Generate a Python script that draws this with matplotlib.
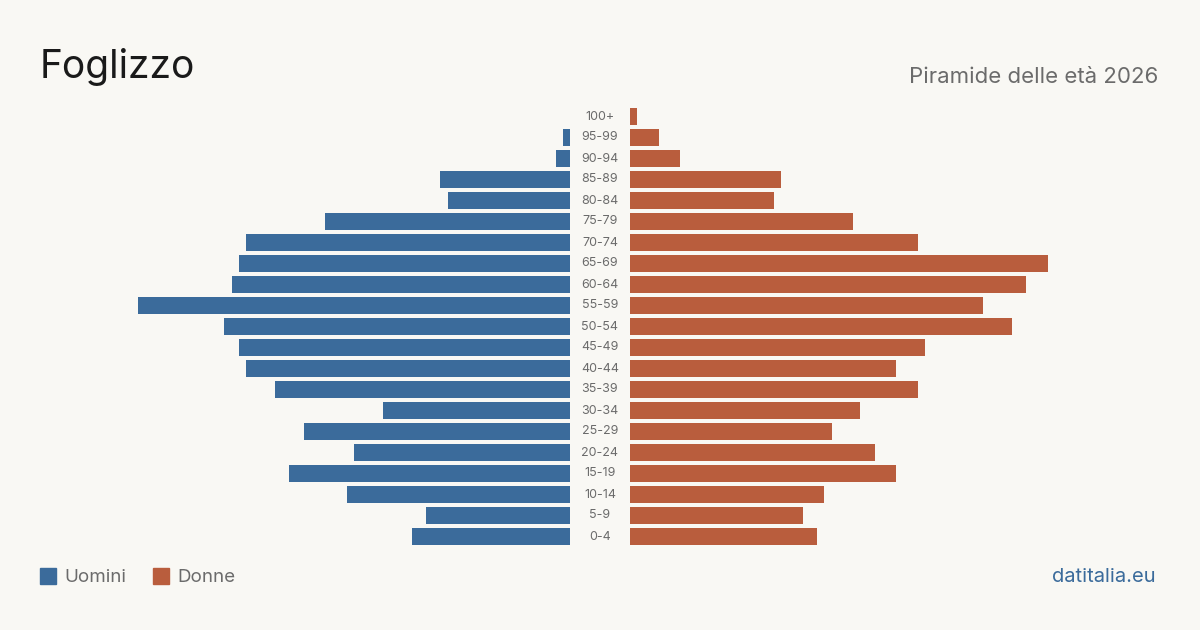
import matplotlib
matplotlib.use("Agg")
import matplotlib.pyplot as plt
import matplotlib.transforms as mtransforms

age_groups = ["0-4", "5-9", "10-14", "15-19", "20-24", "25-29", "30-34", "35-39",
              "40-44", "45-49", "50-54", "55-59", "60-64", "65-69", "70-74",
              "75-79", "80-84", "85-89", "90-94", "95-99", "100+"]
men = [22, 20, 31, 39, 30, 37, 26, 41, 45, 46, 48, 60, 47, 46, 45, 34, 17, 18, 2, 1, 0]
women = [26, 24, 27, 37, 34, 28, 32, 40, 37, 41, 53, 49, 55, 58, 40, 31, 20, 21, 7, 4, 1]

title = "Foglizzo"
subtitle = "Piramide delle età 2026"
legend_labels = ["Uomini", "Donne"]
source = "datitalia.eu"

BG = "#f9f8f4"
BLUE = "#3b6b9b"
ORANGE = "#b95d3d"
GRAY = "#6b6b6b"
FONT = ["Inter", "DejaVu Sans"]

plt.rcParams["font.family"] = FONT

W, H = 1200, 630
fig = plt.figure(figsize=(W / 100, H / 100), dpi=100, facecolor=BG)

bottom = (H - 547) / H
height = 441 / H
XMAX = 440 / 7.2

axL = fig.add_axes([130 / W, bottom, 440 / W, height])
axR = fig.add_axes([630 / W, bottom, 440 / W, height])

ypos = list(range(len(age_groups)))
axL.barh(ypos, men, height=0.81, color=BLUE)
axR.barh(ypos, women, height=0.81, color=ORANGE)

axL.set_xlim(XMAX, 0)
axR.set_xlim(0, XMAX)
for ax in (axL, axR):
    ax.set_ylim(-0.5, len(age_groups) - 0.5)
    ax.axis("off")
    ax.set_facecolor("none")

trans = mtransforms.blended_transform_factory(fig.transFigure, axR.transData)
for y, lab in zip(ypos, age_groups):
    axR.text(600 / W, y, lab, transform=trans, ha="center", va="center",
             fontsize=9, color=GRAY, clip_on=False)

fig.text(40 / W, 1 - 67 / H, title, fontsize=28, color="#1a1a1a",
         ha="left", va="center")
fig.text(1158 / W, 1 - 77 / H, subtitle, fontsize=16, color=GRAY,
         ha="right", va="center")

# legend
fig.patches.append(plt.Rectangle((40 / W, 1 - 584 / H), 16 / W, 16 / H,
                                 transform=fig.transFigure, color=BLUE))
fig.text(64 / W, 1 - 577 / H, legend_labels[0], fontsize=13.5, color=GRAY,
         ha="left", va="center")
fig.patches.append(plt.Rectangle((153 / W, 1 - 584 / H), 16 / W, 16 / H,
                                 transform=fig.transFigure, color=ORANGE))
fig.text(177 / W, 1 - 577 / H, legend_labels[1], fontsize=13.5, color=GRAY,
         ha="left", va="center")

fig.text(1156 / W, 1 - 577 / H, source, fontsize=14.5, color=BLUE,
         ha="right", va="center")

fig.savefig("out.png", dpi=100, facecolor=BG)
